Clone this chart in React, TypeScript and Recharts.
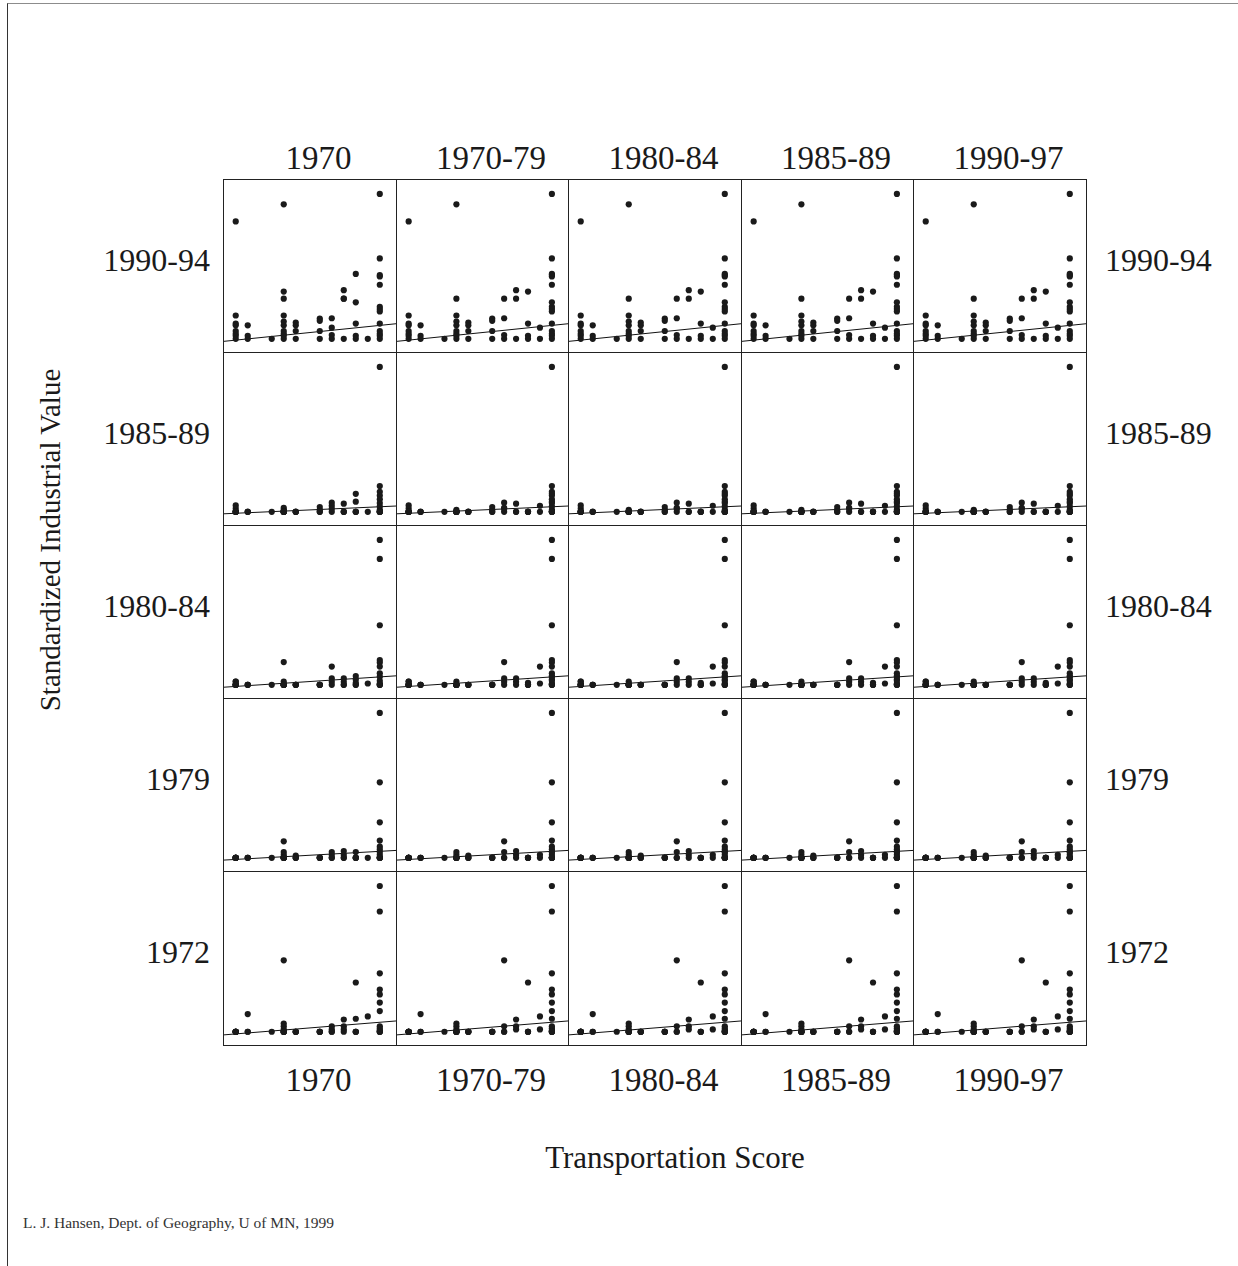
import React from 'react';
import { ScatterChart, Scatter, XAxis, YAxis, ReferenceLine } from 'recharts';

// Column (transportation score year) and row (industrial value year) labels
const colLabels = ['1970', '1970-79', '1980-84', '1985-89', '1990-97'];
const rowLabels = ['1990-94', '1985-89', '1980-84', '1979', '1972'];

// Transportation score of each place, one array per column period
const trans1970 = [13, 13, 13, 13, 13, 13, 13, 13, 13, 13, 13, 13, 13, 11, 11, 1, 1, 1, 1, 1, 1, 1, 1, 2, 2, 2, 4, 5, 5, 5, 5, 5, 5, 5, 5, 5, 5, 6, 6, 6, 6, 8, 8, 8, 8, 9, 9, 9, 9, 10, 10, 10, 11, 11, 11, 12, 10];
const trans7079 = [13, 13, 13, 13, 13, 13, 13, 13, 13, 13, 13, 13, 13, 13, 13, 1, 1, 1, 1, 1, 1, 1, 1, 2, 2, 2, 4, 5, 9, 11, 5, 5, 5, 5, 5, 5, 5, 6, 6, 6, 6, 8, 8, 8, 8, 9, 12, 9, 9, 10, 10, 10, 11, 11, 11, 12, 5];
const trans8084 = [13, 13, 13, 13, 13, 13, 13, 13, 13, 13, 13, 13, 13, 13, 13, 1, 1, 1, 1, 1, 1, 1, 1, 2, 2, 2, 4, 5, 9, 11, 5, 5, 5, 5, 5, 5, 5, 6, 6, 6, 6, 8, 8, 8, 8, 9, 12, 9, 9, 10, 10, 10, 11, 11, 11, 12, 5];
const trans8589 = [13, 13, 13, 13, 13, 13, 13, 13, 13, 13, 13, 13, 13, 13, 13, 1, 1, 1, 1, 1, 1, 1, 1, 2, 2, 2, 4, 5, 9, 11, 5, 5, 5, 5, 5, 5, 5, 6, 6, 6, 6, 8, 8, 8, 8, 9, 12, 9, 9, 10, 10, 10, 11, 11, 11, 12, 5];
const trans9097 = [13, 13, 13, 13, 13, 13, 13, 13, 13, 13, 13, 13, 13, 13, 13, 1, 1, 1, 1, 1, 1, 1, 1, 2, 2, 2, 4, 5, 9, 11, 5, 5, 5, 5, 5, 5, 5, 6, 6, 6, 6, 8, 8, 8, 8, 9, 12, 9, 9, 10, 10, 10, 11, 11, 11, 12, 5];

// Standardized industrial value of each place (rescaled 0-100), one array per row period
const ind9094 = [100, 55.5, 44, 43, 37.3, 22.1, 20.5, 18.9, 10.5, 5.4, 3.5, 2.1, 0, 44.8, 25.2, 81, 16.1, 10.5, 9.3, 5.4, 3.5, 2.1, 0, 9.3, 2.1, 0, 0, 92.8, 27.7, 32.6, 16.1, 11.9, 9.3, 5.4, 3.5, 2.1, 0, 11.2, 9.3, 5.4, 0, 14, 12.4, 5.4, 0, 14.2, 7.7, 2.6, 0, 33.6, 27.7, 0, 10.5, 2.1, 0, 0, 27.7];
const ind8589 = [100, 17.8, 13.8, 11.2, 8.6, 6.1, 3.7, 1.4, 0, 0, 0, 0, 0, 12.4, 7.0, 0, 4.4, 2.3, 0, 0, 0, 0, 0, 0, 0, 0, 0, 1.4, 2.8, 0, 0, 0, 0, 0, 0, 0, 0, 0, 0, 0, 0, 3.3, 1.4, 0, 0, 6.3, 4.2, 2.1, 0, 5.6, 0, 0, 0, 0, 0, 0, 0];
const ind8084 = [100, 86.9, 41.1, 17.1, 15.4, 12.6, 7.9, 5.6, 2.8, 0.9, 0, 0, 0, 6.1, 3.7, 2.3, 0, 2.3, 0, 0, 0, 0, 0, 0, 0, 0, 0, 2.3, 15.7, 0, 0, 0, 0, 0, 0, 0, 0, 0, 0, 0, 0, 0, 0, 0, 0, 4.4, 12.6, 2.1, 0, 4.4, 2.1, 0, 1.4, 0, 0, 0.9, 0];
const ind1979 = [100, 52.1, 24.5, 11.9, 7.7, 5.8, 4.0, 2.1, 0, 0, 0, 0, 0, 4.0, 0, 0, 0, 0, 0, 0, 0, 0, 0, 0, 0, 0, 0, 4.0, 11.4, 0, 2.1, 0, 0, 0, 0, 0, 0, 1.6, 0, 0, 0, 0, 0, 0, 0, 4.0, 2.1, 0, 0, 4.7, 2.1, 0, 0, 0, 0, 0, 0];
const ind1972 = [100, 82.5, 40.1, 28.9, 25.6, 20.0, 14.2, 3.7, 2.3, 0.9, 0, 0, 0, 8.9, 0, 0, 0, 0, 0, 0, 0, 0, 0, 0, 12.1, 0, 0, 5.6, 49, 0, 3.7, 1.6, 0, 0, 0, 0, 0, 0, 0, 0, 0, 0, 0, 0, 0, 3.7, 1.6, 0, 0, 8.4, 3.7, 1.6, 33.8, 0, 0, 10.5, 0];

// Fitted line values at the left and right edge of each row's panels
const fitLeft = [-1.8, -1.4, -1.7, -1.6, -2.2];
const fitRight = [10.4, 4.0, 6.2, 5.1, 7.4];

const xCols = [trans1970, trans7079, trans8084, trans8589, trans9097];
const yRows = [ind9094, ind8589, ind8084, ind1979, ind1972];

const X_DOMAIN: [number, number] = [-0.06, 14.35];
const Y_DOMAIN: [number, number] = [-9.1, 110.3];

const colEdges = [223, 396, 568, 741, 913, 1086];
const rowEdges = [179, 352, 525, 698, 871, 1045];

const FONT = '"Liberation Serif", "Times New Roman", serif';
const INK = '#1a1a1a';

const Dot = (props: any) => {
  if (props.cx == null || props.cy == null) return <g />;
  return <circle cx={props.cx} cy={props.cy} r={3.1} fill={INK} />;
};

function Panel({ r, c }: { r: number; c: number }) {
  const data = xCols[c].map((x, i) => ({ x, y: yRows[r][i] }));
  const w = colEdges[c + 1] - colEdges[c];
  const h = rowEdges[r + 1] - rowEdges[r];
  return (
    <div style={{ position: 'absolute', left: colEdges[c], top: rowEdges[r], width: w, height: h }}>
      <ScatterChart width={w} height={h} margin={{ top: 0, right: 0, bottom: 0, left: 0 }}>
        <XAxis type="number" dataKey="x" domain={X_DOMAIN} hide allowDataOverflow />
        <YAxis type="number" dataKey="y" domain={Y_DOMAIN} hide allowDataOverflow />
        <ReferenceLine
          segment={[
            { x: X_DOMAIN[0], y: fitLeft[r] },
            { x: X_DOMAIN[1], y: fitRight[r] },
          ]}
          stroke="#111"
          strokeWidth={1}
          ifOverflow="visible"
        />
        <Scatter data={data} isAnimationActive={false} shape={Dot} />
      </ScatterChart>
    </div>
  );
}

const labelStyle: React.CSSProperties = {
  position: 'absolute',
  fontFamily: FONT,
  fontSize: 33,
  color: INK,
  whiteSpace: 'nowrap',
  lineHeight: 1,
};

export default function App() {
  const panels = [];
  for (let r = 0; r < 5; r++) for (let c = 0; c < 5; c++) panels.push(<Panel key={`${r}-${c}`} r={r} c={c} />);

  return (
    <div style={{ position: 'absolute', left: 0, top: 0, width: 1238, height: 1266, background: '#fff', overflow: 'hidden' }}>
      <div style={{ position: 'absolute', left: 7, top: 3, width: 1231, height: 1263, borderTop: '1px solid #8c8c8c', borderLeft: '1px solid #333' }} />
      {panels}
      {/* panel frame */}
      <div style={{ position: 'absolute', left: colEdges[0], top: rowEdges[0], width: colEdges[5] - colEdges[0] + 1, height: rowEdges[5] - rowEdges[0] + 1, border: '1px solid #222', boxSizing: 'border-box' }} />
      {colEdges.slice(1, 5).map((x) => (
        <div key={`v${x}`} style={{ position: 'absolute', left: x, top: rowEdges[0], width: 1, height: rowEdges[5] - rowEdges[0], background: '#222' }} />
      ))}
      {rowEdges.slice(1, 5).map((y) => (
        <div key={`h${y}`} style={{ position: 'absolute', left: colEdges[0], top: y, width: colEdges[5] - colEdges[0], height: 1, background: '#222' }} />
      ))}
      {colLabels.map((t, c) => {
        const cx = (colEdges[c] + colEdges[c + 1]) / 2 + 9;
        return (
          <React.Fragment key={`cl${c}`}>
            <div style={{ ...labelStyle, left: cx, top: 158, transform: 'translate(-50%, -50%)' }}>{t}</div>
            <div style={{ ...labelStyle, left: cx, top: 1080, transform: 'translate(-50%, -50%)' }}>{t}</div>
          </React.Fragment>
        );
      })}
      {rowLabels.map((t, r) => {
        const cy = (rowEdges[r] + rowEdges[r + 1]) / 2 - 6;
        return (
          <React.Fragment key={`rl${r}`}>
            <div style={{ ...labelStyle, fontSize: 32, right: 1238 - 210, top: cy, transform: 'translateY(-50%)' }}>{t}</div>
            <div style={{ ...labelStyle, fontSize: 32, left: 1105, top: cy, transform: 'translateY(-50%)' }}>{t}</div>
          </React.Fragment>
        );
      })}
      <div style={{ ...labelStyle, fontSize: 31, left: 675, top: 1157, transform: 'translate(-50%, -50%)' }}>Transportation Score</div>
      <div style={{ ...labelStyle, fontSize: 29, left: 50, top: 540, transform: 'translate(-50%, -50%) rotate(-90deg)' }}>Standardized Industrial Value</div>
      <div style={{ ...labelStyle, fontSize: 15.5, left: 23, top: 1215, color: '#333' }}>L. J. Hansen, Dept. of Geography, U of MN, 1999</div>
    </div>
  );
}
